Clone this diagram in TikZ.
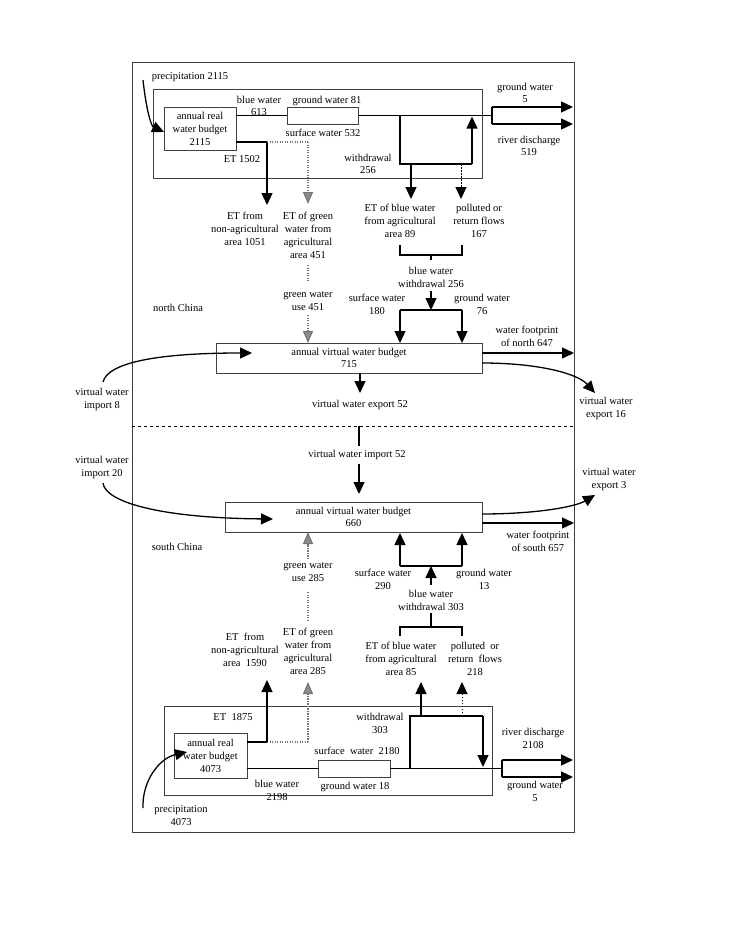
\documentclass[tikz,border=0pt]{standalone}
\usepackage{fontspec}
\setmainfont{Liberation Serif}
\usetikzlibrary{arrows.meta}
\begin{document}
\begin{tikzpicture}[x=1pt,y=-1pt,
  lbl/.style={font=\fontsize{10.5}{13}\selectfont, align=center, inner sep=0pt},
  tightl/.style={font=\fontsize{10.5}{11.5}\selectfont, align=center, inner sep=0pt},
  boxn/.style={draw=black!75, line width=0.8pt, inner sep=0pt, align=center, font=\fontsize{10.5}{13}\selectfont},
  frame/.style={draw=black!75, line width=0.8pt},
  flow/.style={line width=1.3pt},
  tip/.style={-{Triangle[length=12pt,width=11pt]}},
  gtip/.style={-{Triangle[length=12pt,width=10pt,fill=black!45,color=black!55]}},
  greenl/.style={draw=black!55, line width=1.1pt, dash pattern=on 1.4pt off 1.1pt},
  dotl/.style={line width=1pt, dash pattern=on 1.5pt off 1.5pt}]
\useasboundingbox (0,0) rectangle (728,942);

% frames
\draw[frame] (132,62) rectangle (574,832);
\draw[frame] (153,89) rectangle (482,178);
\draw[frame] (164,706) rectangle (492,795);
\draw[dashed, line width=0.8pt] (132,426) -- (574,426);

% boxes
\node[boxn, minimum width=72pt, minimum height=43pt] (nbud) at (200,128.5) {annual real\\water budget\\2115};
\node[boxn, minimum width=71pt, minimum height=17pt] (nsm) at (322.5,115.5) {};
\node[boxn, minimum width=266pt, minimum height=30pt, font=\fontsize{10.5}{11.5}\selectfont] (nvb) at (349,358) {annual virtual water budget\\715};
\node[boxn, minimum width=257pt, minimum height=30pt, font=\fontsize{10.5}{11.5}\selectfont] (svb) at (353.5,517) {annual virtual water budget\\660};
\node[boxn, minimum width=73pt, minimum height=45pt] (sbud) at (210.5,755.5) {annual real\\water budget\\4073};
\node[boxn, minimum width=72pt, minimum height=17pt] (ssm) at (354,768.5) {};

% ---------- north labels
\node[lbl] (npre) at (190,77) {precipitation 2115};
\node[tightl] (nblue) at (259,106) {blue water\\613};
\node[lbl] (ngw81) at (327,101) {ground water 81};
\node[lbl] (nsw) at (323,133) {surface water 532};
\node[lbl] (net) at (242,159) {ET 1502};
\node[tightl] (nwd) at (368,164) {withdrawal\\256};
\node[tightl] (ngw5) at (525,93) {ground water\\5};
\node[tightl] (nrd) at (529,146) {river discharge\\519};
\node[lbl] (netna) at (245,228.5) {ET from\\non-agricultural\\area 1051};
\node[lbl] (netg) at (308,235) {ET of green\\water from\\agricultural\\area 451};
\node[lbl] (netb) at (400,221) {ET of blue water\\from agricultural\\area 89};
\node[lbl] (npol) at (479,221) {polluted or\\return flows\\167};
\node[lbl] (nbw) at (431,277.5) {blue water\\withdrawal 256};
\node[lbl] (nsw180) at (377,304) {surface water\\180};
\node[lbl] (ngw76) at (482,304) {ground water\\76};
\node[lbl] (nchina) at (178,308) {north China};
\node[lbl] (ngu) at (308,301) {green water\\use 451};
\node[lbl] (nfp) at (527,336.5) {water footprint\\of north 647};
\node[lbl] (nimp) at (102,399) {virtual water\\import 8};
\node[lbl] (nexp52) at (360,405) {virtual water export 52};
\node[lbl] (nexp16) at (606,408) {virtual water\\export 16};

% ---------- south labels
\node[lbl] (simp52) at (357,455) {virtual water import 52};
\node[lbl] (simp) at (102,467) {virtual water\\import 20};
\node[lbl] (sexp3) at (609,479) {virtual water\\export 3};
\node[lbl] (sfp) at (538,541.5) {water footprint\\of south 657};
\node[lbl] (schina) at (177,547) {south China};
\node[lbl] (sgu) at (308,572.5) {green water\\use 285};
\node[lbl] (ssw290) at (383,579.5) {surface water\\290};
\node[lbl] (sgw13) at (484,579.5) {ground water\\13};
\node[lbl] (sbw) at (431,600.5) {blue water\\withdrawal 303};
\node[lbl] (setna) at (245,650) {ET\ \ from\\non-agricultural\\area\ \ 1590};
\node[lbl] (setg) at (308,651) {ET of green\\water from\\agricultural\\area 285};
\node[lbl] (setb) at (401,659) {ET of blue water\\from agricultural\\area 85};
\node[lbl] (spol) at (475,659) {polluted\ \ or\\return\ \ flows\\218};
\node[lbl] (set) at (233,717) {ET\ \ 1875};
\node[lbl] (swd) at (380,723.5) {withdrawal\\303};
\node[lbl] (ssw) at (357,751) {surface\ \ water\ \ 2180};
\node[lbl] (sgw18) at (355,787) {ground water 18};
\node[lbl] (sblue) at (277,790.5) {blue water\\2198};
\node[lbl] (srd) at (533,738.5) {river discharge\\2108};
\node[lbl] (sgw5) at (535,791.5) {ground water\\5};
\node[lbl] (spre) at (181,816) {precipitation\\4073};

% ---------- north flows
\coordinate (nsplit) at (492,115.5);
\draw[flow] (nbud.east|-nsm.west) -- (nsm.west);
\draw[flow] (nsm.east) -- (nsplit);
\draw[flow] (492,107) -- (492,124);
\draw[flow,tip] (492,107) -- (573,107);
\draw[flow,tip] (492,124) -- (573,124);
\draw[flow] (400,115.5) -- (400,164) -- (472,164);
\draw[flow,tip] (472,164) -- (472,116.5);
\draw[flow,tip] (411,164) -- (411,199);
\draw[flow,dotl,tip] (461,164) -- (461,199);
\draw[flow] (236,142) -- (267,142);
\draw[flow,tip] (267,142) -- (267,205);
\draw[greenl] (267,142) -- (308,142);
\draw[greenl,gtip] (308,142) -- (308,204);
\draw[flow,tip] (143,80) .. controls (146,108) and (151,126) .. (164,132);
% blue withdrawal north
\draw[flow] (400,245) -- (400,255) -- (462,255) -- (462,245);
\draw[flow] (431,255) -- (431,260);
\draw[flow,tip] (431,291) -- (431,310);
\draw[flow] (400,310) -- (462,310);
\draw[flow,tip] (400,310) -- (400,343);
\draw[flow,tip] (462,310) -- (462,343);
% green north
\draw[greenl] (308,265) -- (308,281);
\draw[greenl,gtip] (308,315) -- (308,343);
% virtual north
\draw[flow,tip] (103,382) .. controls (108,362) and (160,353) .. (252,353);
\draw[flow,tip] (360,373) -- (360,393);
\draw[flow,tip] (482,353) -- (574,353);
\draw[flow,tip] (482,363) .. controls (540,363) and (578,374) .. (595,393);

% ---------- south flows
\draw[flow] (359,426) -- (359,446);
\draw[flow,tip] (359,464) -- (359,494);
\draw[flow,tip] (103,483) .. controls (105,502) and (160,518) .. (273,519);
\draw[flow,tip] (482,514) .. controls (535,514) and (575,507) .. (595,495);
\draw[flow,tip] (482,523) -- (574,523);
% green south
\draw[greenl,gtip] (308,559) -- (308,532);
\draw[greenl] (308,592) -- (308,620);
\draw[greenl,gtip] (308,742) -- (308,682);
\draw[greenl] (267,742) -- (308,742);
% blue south
\draw[flow,tip] (400,566) -- (400,533);
\draw[flow,tip] (462,566) -- (462,533);
\draw[flow] (400,566) -- (462,566);
\draw[flow,tip] (431,585) -- (431,566);
\draw[flow] (431,613) -- (431,627);
\draw[flow] (400,636) -- (400,627) -- (462,627) -- (462,636);
\draw[flow,tip] (421,716) -- (421,682);
\draw[flow,dotl,tip] (462,716) -- (462,682);
\draw[flow] (410,768) -- (410,716) -- (483,716);
\draw[flow,tip] (483,716) -- (483,767);
% ET south
\draw[flow] (247,742) -- (267,742);
\draw[flow,tip] (267,742) -- (267,680);
% blue line south
\draw[flow] (sbud.east|-ssm.west) -- (ssm.west);
\coordinate (ssplit) at (502,768.5);
\draw[flow] (ssm.east) -- (ssplit);
\draw[flow] (502,760) -- (502,777);
\draw[flow,tip] (502,760) -- (573,760);
\draw[flow,tip] (502,777) -- (573,777);
\draw[flow,tip] (143,808) .. controls (142,780) and (160,758) .. (187,752);
\end{tikzpicture}
\end{document}
